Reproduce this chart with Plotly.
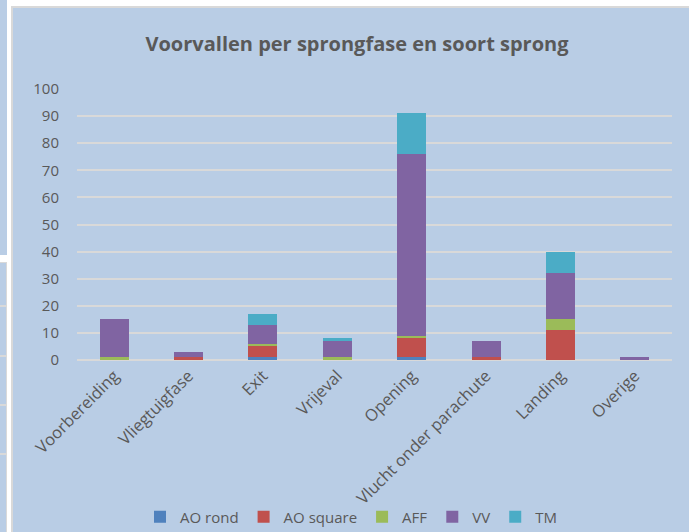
import plotly.graph_objects as go

categories = ["Voorbereiding", "Vliegtuigfase", "Exit", "Vrijeval", "Opening",
              "Vlucht onder parachute", "Landing", "Overige"]
ao_rond   = [0, 0, 1, 0, 1, 0, 0, 0]
ao_square = [0, 1, 4, 0, 7, 1, 11, 0]
aff       = [1, 0, 1, 1, 1, 0, 4, 0]
vv        = [14, 2, 7, 6, 67, 6, 17, 1]
tm        = [0, 0, 4, 1, 15, 0, 8, 0]

series = [("AO rond", ao_rond, "#4F81BD"), ("AO square", ao_square, "#C0504D"),
          ("AFF", aff, "#9BBB59"), ("VV", vv, "#8064A2"), ("TM", tm, "#4BACC6")]

W, H = 689, 532
L, R, T, B = 77, 672, 89, 360
BG = "#B9CDE5"
FONT = "'Open Sans', Lato, sans-serif"
TXT = "#595959"

fig = go.Figure()
for name, vals, col in series:
    fig.add_trace(go.Bar(x=categories, y=vals, name=name,
                         marker=dict(color=col, line=dict(width=0))))

def px(x):
    return (x - L) / (R - L)

def py(y):
    return (B - y) / (B - T)

shapes = []
def rect(x0, y0, x1, y1, color):
    shapes.append(dict(type="rect", xref="paper", yref="paper", layer="below",
                       x0=px(x0), x1=px(x1), y0=py(y1), y1=py(y0),
                       fillcolor=color, line=dict(width=0)))

# white surroundings
rect(0, 0, W, 7, "white")
rect(0, 0, 12, H, "white")
# left fragments of neighbouring panels
rect(0, 0, 7, 255, BG)
rect(0, 262, 7, H, BG)
rect(6, 262, 7, H, "#D9D9D9")
rect(0, 262, 7, 263, "#D9D9D9")
for yy in [305, 355, 404, 453]:
    rect(0, yy, 6, yy + 2, "#D9D9D9")
# chart border
rect(11, 6, 13, H, "#D9D9D9")
rect(11, 6, W, 8, "#D9D9D9")

fig.update_layout(
    width=W, height=H,
    barmode="stack", bargap=0.61,
    paper_bgcolor=BG, plot_bgcolor=BG,
    margin=dict(l=L, r=W - R, t=T, b=H - B, pad=0, autoexpand=False),
    font=dict(family=FONT, color=TXT, size=15),
    title=dict(text="<b>Voorvallen per sprongfase en soort sprong</b>",
               x=(357 - L) / (R - L), xref="paper", xanchor="center",
               y=1 - 44 / H, yref="container", yanchor="middle",
               font=dict(size=20, color=TXT, family=FONT)),
    xaxis=dict(tickangle=-45, showgrid=False, showline=False, ticks="",
               ticklabelstandoff=2, tickfont=dict(size=16.5, color=TXT)),
    yaxis=dict(range=[0, 100], dtick=10, showgrid=True, gridcolor="#D9D9D9",
               gridwidth=2, zeroline=True, zerolinecolor="#D9D9D9", zerolinewidth=2,
               ticks="", ticklabelstandoff=17, tickfont=dict(size=15, color=TXT)),
    legend=dict(orientation="h", x=(351 - L) / (R - L), xanchor="center",
                y=py(517), yanchor="middle", bgcolor="rgba(0,0,0,0)",
                itemwidth=30, font=dict(size=15, color=TXT),
                traceorder="normal"),
    shapes=shapes,
)

fig.write_html("out.html", config={"displayModeBar": False},
               post_script="document.body.style.margin='0';document.body.style.padding='0';")
